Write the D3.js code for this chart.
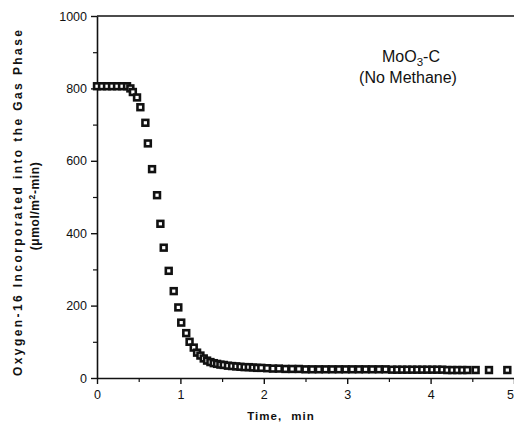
<!DOCTYPE html>
<html>
<head>
<meta charset="utf-8">
<script src="https://cdn.jsdelivr.net/npm/d3@7"></script>
<style>
  html, body { margin: 0; padding: 0; background: #fff; }
  svg { display: block; }
  text { font-family: "Liberation Sans", Arial, Helvetica, sans-serif; fill: #111; }
</style>
</head>
<body>
<svg id="chart" width="514" height="430"></svg>
<script>
// Oxygen-16 release rate (umol/m2-min) vs time (min), MoO3-C without methane
const times = [
  0, 0.06, 0.12, 0.18, 0.24, 0.30, 0.36,
  0.40, 0.43, 0.48, 0.52, 0.58, 0.61, 0.66, 0.72, 0.76, 0.80, 0.86, 0.92,
  0.975, 1.01, 1.07, 1.11, 1.16, 1.20, 1.24, 1.28, 1.32, 1.36, 1.40, 1.44,
  1.48, 1.52, 1.57, 1.62, 1.67, 1.72, 1.77, 1.82, 1.87, 1.92, 1.97,
  2.04, 2.11, 2.18, 2.26, 2.34, 2.42, 2.50, 2.58, 2.66, 2.74, 2.82, 2.90,
  2.98, 3.06, 3.14, 3.22, 3.30, 3.38, 3.46, 3.54, 3.60, 3.66, 3.72, 3.78,
  3.84, 3.90, 3.96, 4.02, 4.08, 4.14, 4.20, 4.26, 4.32, 4.38, 4.44, 4.54,
  4.70, 4.92
];
const rates = [
  806, 806, 806, 806, 806, 806, 806,
  800, 790, 775, 748, 705, 648, 577, 505, 426, 360, 296, 240,
  195, 153, 124, 100, 84, 70, 62, 54, 48, 44, 41, 39,
  37, 36, 34, 33, 32, 31, 30, 30, 29, 28, 28,
  27, 26, 26, 25, 25, 25, 24, 24, 24, 24, 24, 24,
  24, 24, 24, 24, 24, 24, 24, 23, 23, 23, 23, 23,
  23, 23, 23, 23, 23, 23, 22, 22, 22, 22, 22, 22,
  22, 22
];
const xTicks = [0, 1, 2, 3, 4, 5];
const yTicks = [0, 200, 400, 600, 800, 1000];
const xMinor = [0.5, 1.5, 2.5, 3.5, 4.5];
const yMinor = [100, 300, 500, 700, 900];

const svg = d3.select("#chart");
const plotL = 97, plotR = 514, plotT = 16, plotB = 378;

const x = d3.scaleLinear().domain([0, 5]).range([plotL, plotR]);
const y = d3.scaleLinear().domain([0, 1000]).range([plotB, plotT]);

const axisStyle = g => {
  g.select(".domain").attr("stroke", "#111").attr("stroke-width", 1.6);
  g.selectAll(".tick line").attr("stroke", "#111").attr("stroke-width", 1.4);
  g.selectAll(".tick text").style("font-size", "12.5px").attr("fill", "#111");
};

// minor ticks
svg.append("g")
  .attr("transform", `translate(0,${plotB})`)
  .call(d3.axisBottom(x).tickValues(xMinor).tickSize(4).tickFormat(""))
  .call(g => g.select(".domain").remove())
  .selectAll(".tick line").attr("stroke", "#111").attr("stroke-width", 1.2);
svg.append("g")
  .attr("transform", `translate(${plotL},0)`)
  .call(d3.axisLeft(y).tickValues(yMinor).tickSize(4).tickFormat(""))
  .call(g => g.select(".domain").remove())
  .selectAll(".tick line").attr("stroke", "#111").attr("stroke-width", 1.2);

// main axes
svg.append("g")
  .attr("transform", `translate(0,${plotB})`)
  .call(d3.axisBottom(x).tickValues(xTicks).tickSize(6).tickSizeOuter(0).tickPadding(6).tickFormat(d3.format("d")))
  .call(axisStyle)
  .call(g => g.selectAll(".tick text").attr("dx", d => d === 5 ? -4 : 0));
svg.append("g")
  .attr("transform", `translate(${plotL},0)`)
  .call(d3.axisLeft(y).tickValues(yTicks).tickSize(6).tickSizeOuter(0).tickPadding(4).tickFormat(d3.format("d")))
  .call(axisStyle);

// top frame line
svg.append("line")
  .attr("x1", x(0)).attr("x2", x(5))
  .attr("y1", y(1000)).attr("y2", y(1000))
  .attr("stroke", "#111").attr("stroke-width", 1.6);

// data markers: heavy open squares
const s = 5.8;
svg.append("g").selectAll("rect")
  .data(times.map((t, i) => ({ t, v: rates[i] })))
  .join("rect")
  .attr("x", d => x(d.t) - s / 2)
  .attr("y", d => y(d.v) - s / 2)
  .attr("width", s).attr("height", s)
  .attr("fill", "#fff")
  .attr("stroke", "#111")
  .attr("stroke-width", 2.6);

// axis titles
svg.append("text")
  .attr("transform", `translate(22,203) rotate(-90)`)
  .attr("text-anchor", "middle")
  .attr("textLength", 346).attr("lengthAdjust", "spacing")
  .style("font-size", "12px").style("font-weight", "bold")
  .text("Oxygen-16  Incorporated  into  the  Gas  Phase");

const sub = svg.append("text")
  .attr("transform", `translate(39,206) rotate(-90)`)
  .attr("text-anchor", "middle")
  .style("font-size", "12px").style("font-weight", "bold")
  .style("letter-spacing", "0.6px");
sub.append("tspan").text("(\u03bcmol/m");
sub.append("tspan").attr("dy", -4).style("font-size", "8.5px").text("2");
sub.append("tspan").attr("dy", 4).text("-min)");

svg.append("text")
  .attr("x", 281).attr("y", 420)
  .attr("text-anchor", "middle")
  .style("font-size", "11.5px").style("font-weight", "bold")
  .style("letter-spacing", "1px").style("word-spacing", "5px")
  .text("Time,  min");

// annotation
const a1 = svg.append("text")
  .attr("x", 411).attr("y", 62)
  .attr("text-anchor", "middle")
  .style("font-size", "16px");
a1.append("tspan").text("MoO");
a1.append("tspan").attr("dy", 4).style("font-size", "11.5px").text("3");
a1.append("tspan").attr("dy", -4).text("-C");

svg.append("text")
  .attr("x", 408).attr("y", 83)
  .attr("text-anchor", "middle")
  .style("font-size", "16px")
  .text("(No Methane)");
</script>
</body>
</html>
